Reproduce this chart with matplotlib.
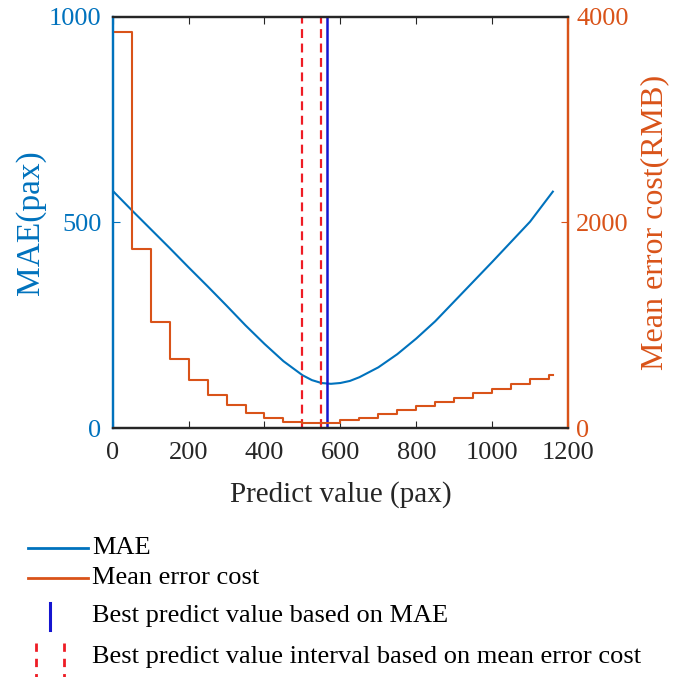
import matplotlib
matplotlib.use('Agg')
import matplotlib.pyplot as plt
from matplotlib.lines import Line2D

plt.rcParams['font.family'] = ['Liberation Serif', 'DejaVu Serif']

# данные
mae_x = [0, 50, 100, 150, 200, 250, 300, 350, 400, 450, 500, 525, 550, 575,
         600, 625, 650, 700, 750, 800, 850, 900, 950, 1000, 1050, 1100, 1160]
mae_y = [577, 530, 484, 438, 391, 345, 298, 250, 205, 163, 129, 117, 110, 108,
         110, 115, 124, 148, 180, 218, 260, 308, 356, 404, 453, 502, 575]

cost_x = [0, 50, 100, 150, 200, 250, 300, 350, 400, 450, 500, 550,
          600, 650, 700, 750, 800, 850, 900, 950, 1000, 1050, 1100, 1150, 1160]
cost_y = [3850, 1740, 1036, 673, 469, 324, 227, 148, 100, 64, 50, 56,
          78, 103, 140, 175, 212, 255, 297, 343, 382, 428, 476, 518, 518]

best_mae = 565
best_cost_interval = [500, 550]

xticks = [0, 200, 400, 600, 800, 1000, 1200]
left_ticks = [0, 500, 1000]
right_ticks = [0, 2000, 4000]

c_mae = '#0072BD'
c_cost = '#D95319'
c_best = '#1515D0'
c_int = '#EE1C25'
c_axis = '#262626'

fig = plt.figure(figsize=(6.75, 6.77), dpi=100)
ax = fig.add_axes([0.167, 0.3674, 0.6745, 0.6079])
ax2 = ax.twinx()

ax.plot(mae_x, mae_y, color=c_mae, lw=1.5)
ax2.step(cost_x, cost_y, where='post', color=c_cost, lw=1.5)
ax.axvline(best_mae, color=c_best, lw=1.8)
for v in best_cost_interval:
    ax.axvline(v, color=c_int, lw=1.6, ls=(0, (4, 2.5)))

ax.set_xlim(0, 1200)
ax.set_ylim(0, 1000)
ax2.set_ylim(0, 4000)
ax.set_xticks(xticks)
ax.set_yticks(left_ticks)
ax2.set_yticks(right_ticks)

fs = 19
ax.tick_params(axis='x', direction='in', length=5, labelsize=fs, colors=c_axis, top=True, pad=10)
ax.tick_params(axis='y', direction='in', length=5, labelsize=fs, colors=c_mae, pad=8)
ax2.tick_params(axis='y', direction='in', length=5, labelsize=fs, colors=c_cost, pad=6)

for a in (ax, ax2):
    a.spines['top'].set_color(c_axis)
    a.spines['bottom'].set_color(c_axis)
    a.spines['left'].set_color(c_mae)
    a.spines['right'].set_color(c_cost)
    for s in a.spines.values():
        s.set_linewidth(1.6)

ax.set_xlabel('Predict value (pax)', fontsize=21, color=c_axis, labelpad=12)
ax.set_ylabel('MAE(pax)', fontsize=24, color=c_mae, labelpad=2)
ax2.set_ylabel('Mean error cost(RMB)', fontsize=23, color=c_cost, labelpad=8)

# легенда под графиком
def fx(px):
    return px / 675

def fy(py):
    return 1 - py / 677

lfs = 19
fig.add_artist(Line2D([fx(28), fx(88)], [fy(548), fy(548)], color=c_mae, lw=2))
fig.text(fx(92), fy(548), 'MAE', fontsize=lfs, va='center')
fig.add_artist(Line2D([fx(28), fx(88)], [fy(578), fy(578)], color=c_cost, lw=2))
fig.text(fx(92), fy(578), 'Mean error cost', fontsize=lfs, va='center')
fig.add_artist(Line2D([fx(50), fx(50)], [fy(603), fy(630)], color=c_best, lw=2.2))
fig.text(fx(92), fy(616), 'Best predict value based on MAE', fontsize=lfs, va='center')
for lx in (36, 64):
    fig.add_artist(Line2D([fx(lx), fx(lx)], [fy(643), fy(677)], color=c_int, lw=2, ls=(0, (3, 2.5))))
fig.text(fx(92), fy(657), 'Best predict value interval based on mean error cost', fontsize=lfs, va='center')

fig.savefig('out.png', dpi=100, facecolor='white')
